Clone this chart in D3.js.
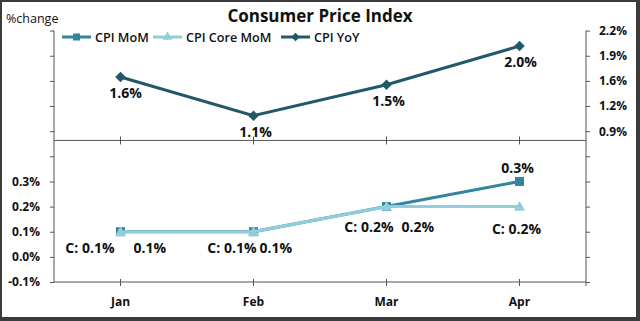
<!DOCTYPE html>
<html><head><meta charset="utf-8">
<script src="https://cdn.jsdelivr.net/npm/d3@7"></script>
<style>html,body{margin:0;padding:0;background:#fff}svg{display:block}</style>
</head><body>
<svg id="c" width="640" height="321"></svg>
<script>
// ---- data ----
const categories = ["Jan", "Feb", "Mar", "Apr"];
const cpiMoM = [0.1, 0.1, 0.2, 0.3];
const cpiCoreMoM = [0.1, 0.1, 0.2, 0.2];
const cpiYoY = [1.6, 1.1, 1.5, 2.0];
const leftTicks = [-0.1, 0, 0.1, 0.2, 0.3, 0.4, 0.5, 0.6, 0.7, 0.8, 0.9];
const leftTickLabels = ["-0.1%", "0.0%", "0.1%", "0.2%", "0.3%", "", "", "", "", "", ""];
const rightTicks = [2.2, 1.875, 1.55, 1.225, 0.9, 0.575, 0.25, -0.075, -0.4, -0.725, -1.05];
const rightTickLabels = ["2.2%", "1.9%", "1.6%", "1.2%", "0.9%", "", "", "", "", "", ""];
const seriesNames = ["CPI MoM", "CPI Core MoM", "CPI YoY"];
const topAxisCross = 0.78;

// ---- layout ----
const W = 640, H = 321;
const L = 54, R = 586, T = 30.6, B = 282;
const colMoM = "#31859C", colCore = "#92CDDC", colYoY = "#215968", axisCol = "#555";
const FONT = "'Open Sans', Lato, sans-serif";

const svg = d3.select("#c");
svg.append("rect").attr("width", W).attr("height", H).attr("fill", "#3b3b3b");
svg.append("rect").attr("x", 2).attr("y", 2).attr("width", 634).attr("height", 315).attr("fill", "#fff");

const x = d3.scaleBand().domain(categories).range([L, R]);
const cx = c => x(c) + x.bandwidth() / 2;
const yL = d3.scaleLinear().domain([-0.1, 0.9]).range([B, T]);
const yR = d3.scaleLinear().domain([-1.05, 2.2]).range([B, T]);

// axes
const leftAxis = d3.axisLeft(yL).tickValues(leftTicks).tickSize(4).tickPadding(10)
  .tickFormat((d) => leftTickLabels[leftTicks.indexOf(d)]);
const gl = svg.append("g").attr("transform", `translate(${L},0)`).call(leftAxis);
const rightAxis = d3.axisRight(yR).tickValues(rightTicks).tickSize(4).tickPadding(9)
  .tickFormat((d) => rightTickLabels[rightTicks.indexOf(d)]);
const gr = svg.append("g").attr("transform", `translate(${R},0)`).call(rightAxis);
[gl, gr].forEach(g => {
  g.select(".domain").attr("stroke", axisCol).attr("d", g === gl ? `M0,${T}V${B}` : `M0,${T}V${B + 4}`);
  g.selectAll(".tick line").attr("stroke", axisCol);
  g.selectAll("text").attr("font-family", FONT).attr("font-size", 12).attr("font-weight", "bold").attr("fill", "#111");
});

// category axes (top panel and bottom)
const yTopAxis = yR(topAxisCross);
[yTopAxis, B].forEach((yy, k) => {
  svg.append("line").attr("x1", L).attr("x2", R).attr("y1", yy).attr("y2", yy).attr("stroke", axisCol);
  svg.selectAll(null).data(categories).enter().append("line")
    .attr("x1", d => cx(d)).attr("x2", d => cx(d))
    .attr("y1", yy - (k ? 3 : 4)).attr("y2", yy + 4).attr("stroke", axisCol);
});
svg.selectAll(".cat").data(categories).enter().append("text")
  .attr("x", d => cx(d)).attr("y", 306).attr("text-anchor", "middle")
  .attr("font-family", FONT).attr("font-size", 12).attr("font-weight", "bold").attr("fill", "#111")
  .text(d => d);

// lines
const lineL = d3.line().x((d, i) => cx(categories[i])).y(d => yL(d));
const lineR = d3.line().x((d, i) => cx(categories[i])).y(d => yR(d));
svg.append("path").attr("d", lineL(cpiMoM)).attr("fill", "none").attr("stroke", colMoM).attr("stroke-width", 3);
svg.selectAll(".mm").data(cpiMoM).enter().append("rect")
  .attr("x", (d, i) => cx(categories[i]) - 4.5).attr("y", d => yL(d) - 4.5)
  .attr("width", 9).attr("height", 9).attr("fill", colMoM);
svg.append("path").attr("d", lineL(cpiCoreMoM)).attr("fill", "none").attr("stroke", colCore).attr("stroke-width", 3);
const tri = d3.symbol().type(d3.symbolTriangle).size(55);
svg.selectAll(".cm").data(cpiCoreMoM).enter().append("path")
  .attr("d", tri).attr("transform", (d, i) => `translate(${cx(categories[i])},${yL(d) + 1})`)
  .attr("fill", colCore);
svg.append("path").attr("d", lineR(cpiYoY)).attr("fill", "none").attr("stroke", colYoY).attr("stroke-width", 3);
const dia = d3.symbol().type(d3.symbolDiamond2).size(70);
svg.selectAll(".ym").data(cpiYoY).enter().append("path")
  .attr("d", dia).attr("transform", (d, i) => `translate(${cx(categories[i])},${yR(d)})`)
  .attr("fill", colYoY);

// data labels
const fmt = v => v.toFixed(1) + "%";
const lab = (xx, yy, anchor, txt) => svg.append("text").attr("x", xx).attr("y", yy)
  .attr("text-anchor", anchor).attr("font-family", FONT).attr("font-size", 14)
  .attr("font-weight", "bold").attr("fill", "#111").text(txt);
const yoyPos = [[5, 21], [2, 21], [2, 21], [1, 21]];
cpiYoY.forEach((v, i) => lab(cx(categories[i]) + yoyPos[i][0], yR(v) + yoyPos[i][1], "middle", fmt(v)));
const momPos = [["start", 13, 21], ["start", 6, 21], ["start", 15, 25], ["middle", -2, -8]];
const corePos = [["end", -6, 21], ["end", 3, 21], ["end", 7, 25], ["middle", -3, 27]];
cpiMoM.forEach((v, i) => lab(cx(categories[i]) + momPos[i][1], yL(v) + momPos[i][2], momPos[i][0], fmt(v)));
cpiCoreMoM.forEach((v, i) => lab(cx(categories[i]) + corePos[i][1], yL(v) + corePos[i][2], corePos[i][0], "C: " + fmt(v)));

// title & axis title
svg.append("text").attr("x", 320).attr("y", 22).attr("text-anchor", "middle")
  .attr("font-family", FONT).attr("font-size", 17).attr("font-weight", "bold").attr("fill", "#111")
  .text("Consumer Price Index");
svg.append("text").attr("x", 6).attr("y", 23)
  .attr("font-family", FONT).attr("font-size", 12.5).attr("fill", "#111").text("%change");

// legend
const legX = [62, 153, 281];
const legCols = [colMoM, colCore, colYoY];
const legY = 37;
seriesNames.forEach((n, i) => {
  const g = svg.append("g").attr("transform", `translate(${legX[i]},${legY})`);
  g.append("line").attr("x1", 0).attr("x2", 29).attr("stroke", legCols[i]).attr("stroke-width", 3);
  if (i === 0) g.append("rect").attr("x", 11).attr("y", -3.5).attr("width", 7).attr("height", 7).attr("fill", legCols[i]);
  if (i === 1) g.append("path").attr("d", d3.symbol().type(d3.symbolTriangle).size(40)).attr("transform", "translate(14.5,0)").attr("fill", legCols[i]);
  if (i === 2) g.append("path").attr("d", d3.symbol().type(d3.symbolDiamond2).size(45)).attr("transform", "translate(14.5,0)").attr("fill", legCols[i]);
  g.append("text").attr("x", 33).attr("y", 4.5).attr("font-family", FONT).attr("font-size", 12.6)
    .attr("font-weight", 600).attr("fill", "#111").text(n);
});
</script>
</body></html>
